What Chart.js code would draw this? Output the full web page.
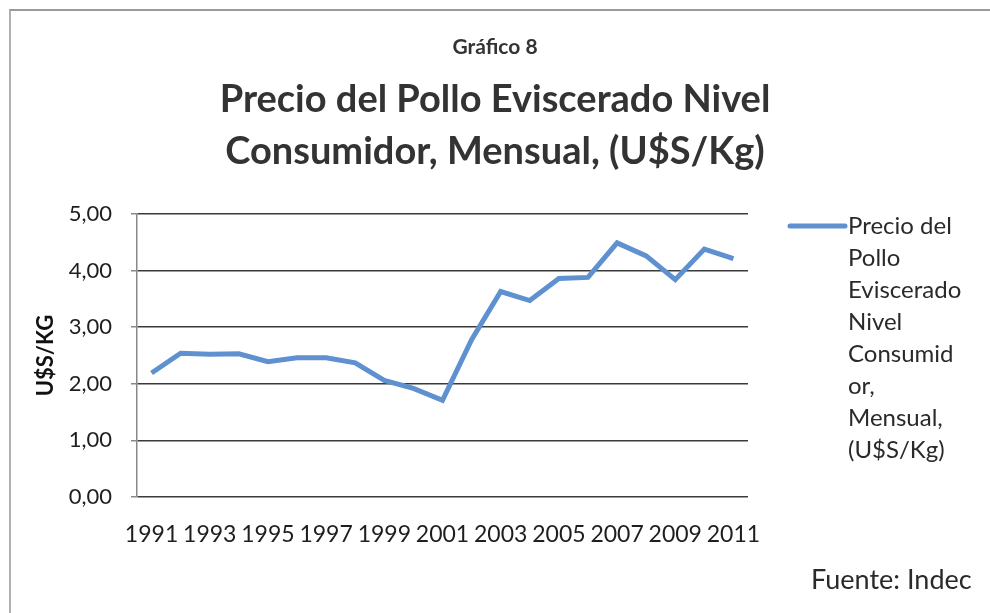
<!DOCTYPE html>
<html>
<head>
<meta charset="utf-8">
<script src="https://cdn.jsdelivr.net/npm/chart.js@4.4.0/dist/chart.umd.min.js"></script>
<style>
  html, body { margin: 0; padding: 0; background: #fff; }
  #wrap { position: relative; width: 990px; height: 613px; overflow: hidden; }
  #frame { position: absolute; left: 9px; top: 9px; width: 1000px; height: 700px;
           border-top: 2px solid #9a9a9a; border-left: 2px solid #b0b0b0; pointer-events: none; }
</style>
</head>
<body>
<div id="wrap">
  <canvas id="myChart" width="990" height="613"></canvas>
  <div id="frame"></div>
</div>
<script>
var years = ['1991', '1992', '1993', '1994', '1995', '1996', '1997', '1998', '1999', '2000',
    '2001', '2002', '2003', '2004', '2005', '2006', '2007', '2008', '2009', '2010', '2011'];

var prices = [2.19, 2.54, 2.52, 2.53, 2.39, 2.46, 2.46, 2.37, 2.06, 1.92,
    1.71, 2.78, 3.63, 3.47, 3.86, 3.88, 4.49, 4.26, 3.84, 4.38, 4.21];

var seriesLabel = 'Precio del Pollo Eviscerado Nivel Consumidor, Mensual, (U$S/Kg)';
// legend text wrapped the way the original shows it
var legendLines = ['Precio del', 'Pollo', 'Eviscerado', 'Nivel', 'Consumid', 'or,', 'Mensual,', '(U$S/Kg)'];

var chartTitle = 'Gráfico 8';
var chartSubtitle = ['Precio del Pollo Eviscerado Nivel', 'Consumidor, Mensual, (U$S/Kg)'];
var yTitle = 'U$S/KG';
var sourceNote = 'Fuente: Indec';

var lineColor = '#5f90d0';
var fontFam = 'Lato, "Open Sans", sans-serif';

// titles are centred on the whole page, not on the plot, so they are drawn here
const pageText = {
    id: 'pageText',
    afterDraw(chart) {
        let ctx = chart.ctx;
        let mid = chart.width / 2;
        ctx.save();
        ctx.textAlign = 'center';
        ctx.textBaseline = 'middle';
        ctx.fillStyle = '#333';
        ctx.font = 'bold 21px ' + fontFam;
        ctx.fillText(chartTitle, mid, 47);
        ctx.font = 'bold 38px ' + fontFam;
        ctx.fillText(chartSubtitle[0], mid, 100);
        ctx.fillText(chartSubtitle[1], mid, 152);

        // legend at the right of the plot
        let x0 = chart.chartArea.right + 42;
        let y0 = chart.chartArea.top + 12;
        ctx.strokeStyle = lineColor;
        ctx.lineWidth = 5;
        ctx.lineCap = 'round';
        ctx.beginPath();
        ctx.moveTo(x0, y0);
        ctx.lineTo(x0 + 55, y0);
        ctx.stroke();

        ctx.fillStyle = '#2a2a2a';
        ctx.font = '24px ' + fontFam;
        ctx.textAlign = 'left';
        for (let i = 0; i < legendLines.length; i++) {
            ctx.fillText(legendLines[i], x0 + 58, y0 + i * 32);
        }

        ctx.font = '27px ' + fontFam;
        ctx.fillText(sourceNote, 811, 580);
        ctx.restore();
    }
};

function init() {
    let data = {
        labels: years,
        datasets: [{
            label: seriesLabel,
            data: prices,
            borderColor: lineColor,
            backgroundColor: lineColor,
            borderWidth: 5,
            pointRadius: 0,
            tension: 0,
            fill: false
        }]
    };

    let config = {
        type: 'line',
        data,
        plugins: [pageText],
        options: {
            responsive: false,
            animation: false,
            layout: {
                padding: { left: 33, right: 242, top: 214, bottom: 66 }
            },
            plugins: {
                legend: { display: false },
                tooltip: { enabled: false },
                title: { display: false }
            },
            scales: {
                x: {
                    offset: true,
                    grid: { display: false },
                    border: { display: false },
                    ticks: {
                        autoSkip: false,
                        maxRotation: 0,
                        padding: 16,
                        color: '#1e1e1e',
                        font: { family: fontFam, size: 23 },
                        callback: function (val, idx) {
                            return idx % 2 === 0 ? this.getLabelForValue(val) : '';
                        }
                    },
                    afterFit: function (scale) { scale.height = 50; }
                },
                y: {
                    min: 0,
                    max: 5,
                    ticks: {
                        stepSize: 1,
                        padding: 19,
                        color: '#1e1e1e',
                        font: { family: fontFam, size: 22 },
                        callback: v => v.toFixed(2).replace('.', ',')
                    },
                    grid: { color: '#3a3a3a', lineWidth: 1.5, tickLength: 6, tickColor: '#888' },
                    border: { color: '#888', width: 1.5 },
                    title: {
                        display: true,
                        text: yTitle,
                        color: '#111',
                        font: { family: fontFam, size: 22, weight: 'bold' },
                        padding: { top: 0, bottom: 6 }
                    },
                    afterFit: function (scale) { scale.width = 104; }
                }
            }
        }
    };

    myChart = new Chart(document.getElementById('myChart'), config);
}

init();
</script>
</body>
</html>
